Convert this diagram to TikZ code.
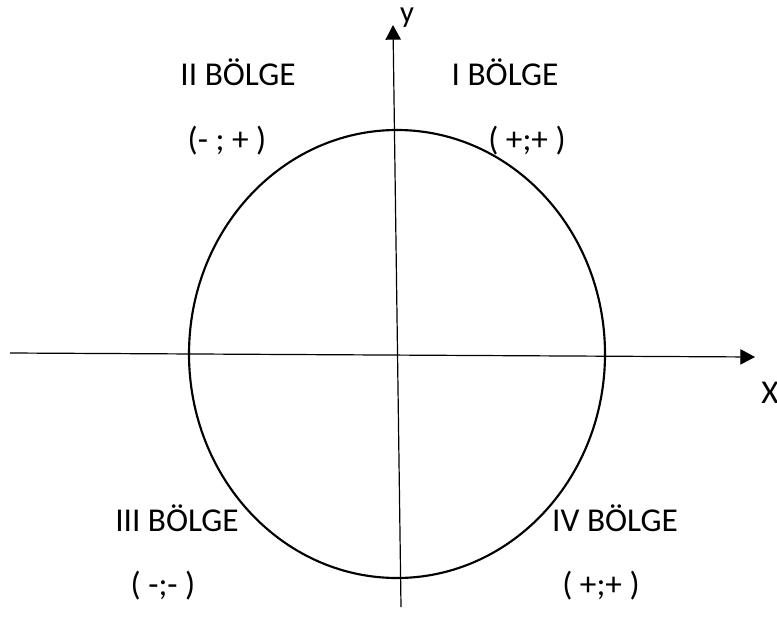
\documentclass[tikz,border=0pt]{standalone}
\usepackage{fontspec}
\setmainfont{Carlito}
\usetikzlibrary{arrows.meta}
\tikzset{
  lbl/.style={inner sep=0pt, anchor=base, font=\fontsize{25}{30}\selectfont},
  axis/.style={line width=0.9pt, -{Triangle[length=11pt,width=11.5pt]}},
  curve/.style={line width=1.6pt}
}
\begin{document}
\begin{tikzpicture}[x=0.75pt,y=-0.75pt]
\useasboundingbox (0,0) rectangle (777,635);
% axes
\coordinate (xs) at (10,353);
\coordinate (xe) at (755,357);
\coordinate (ys) at (401,607);
\coordinate (ye) at (393,25);
\draw[curve] (397,354) ellipse [x radius=208, y radius=224];
\draw[axis] (xs) -- (xe);
\draw[axis] (ys) -- (ye);
\node[lbl, font=\fontsize{23}{28}\selectfont] (ylab) at (407,23) {y};
\node[lbl] (xlab) at (770,403) {X};
% labels
\node[lbl] (q2) at (238,85) {II BÖLGE};
\node[lbl] (q1) at (505,85) {I BÖLGE};
\node[lbl] (s2) at (227,150) {(- ; + )};
\node[lbl] (s1) at (527,150) {( +;+ )};
\node[lbl] (q3) at (177,531) {III BÖLGE};
\node[lbl] (q4) at (615,531) {IV BÖLGE};
\node[lbl] (s3) at (163,595) {( -;- )};
\node[lbl] (s4) at (601,595) {( +;+ )};
\end{tikzpicture}
\end{document}
